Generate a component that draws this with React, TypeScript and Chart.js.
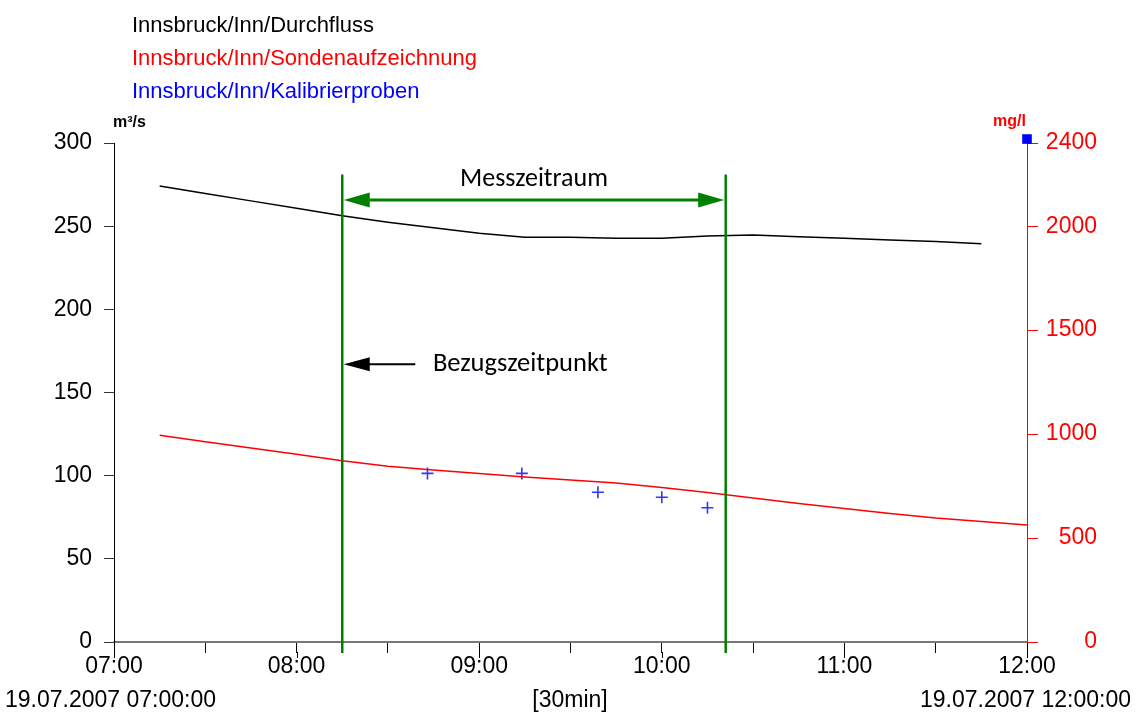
import React, { useEffect, useRef } from 'react';
import { Chart, registerables } from 'chart.js';

Chart.register(...registerables);

// ---- data (x in minutes after 07:00) ----
const durchflussMinutes = [15, 30, 45, 60, 75, 90, 105, 120, 135, 150, 165, 180, 195, 210, 225, 240, 255, 270, 285];
const durchflussValues = [274.2, 269.7, 265.2, 260.8, 256.3, 252.4, 249.1, 245.8, 243.4, 243.3, 242.7, 242.7, 244.1, 244.7, 243.6, 242.7, 241.7, 240.8, 239.4];

const sondeMinutes = [15, 30, 45, 60, 75, 90, 105, 120, 135, 150, 165, 180, 195, 210, 225, 240, 255, 270, 285, 300];
const sondeValues = [994, 963, 933, 903, 872, 845, 827, 810, 794, 779, 765, 743, 719, 693, 666, 642, 618, 596, 580, 563];

const probenMinutes = [103, 134, 159, 180, 195];
const probenValues = [811, 811, 720, 696, 646];

const markerMinutes = [300];
const markerValues = [2419];

const leftTicks = [0, 50, 100, 150, 200, 250, 300];
const rightTicks = [0, 500, 1000, 1500, 2000, 2400];
const xTickMinutes = [0, 30, 60, 90, 120, 150, 180, 210, 240, 270, 300];
const xTickLabels = ['07:00', '', '08:00', '', '09:00', '', '10:00', '', '11:00', '', '12:00'];
const hourMinutes = [0, 60, 120, 180, 240, 300];

const legendLabels = ['Innsbruck/Inn/Durchfluss', 'Innsbruck/Inn/Sondenaufzeichnung', 'Innsbruck/Inn/Kalibrierproben'];
const legendColors = ['#000000', '#ff0000', '#0000ff'];

// annotation anchors (data units)
const periodStart = 75;
const periodEnd = 201;
const greenTopValue = 281;
const periodArrowValue = 265.8;
const refArrowEnd = 99;
const refArrowValue = 167;
const refTextStart = 104.8;

const FONT = '"Liberation Sans", Arial, sans-serif';
const ANNOT_FONT = 'Carlito, Lato, sans-serif';

function arrowHead(ctx: CanvasRenderingContext2D, tipX: number, y: number, dir: number, len: number, half: number) {
  ctx.beginPath();
  ctx.moveTo(tipX, y);
  ctx.lineTo(tipX + dir * len, y - half);
  ctx.lineTo(tipX + dir * len, y + half);
  ctx.closePath();
  ctx.fill();
}

const overlay = {
  id: 'overlay',
  afterDraw(chart: any) {
    const ctx: CanvasRenderingContext2D = chart.ctx;
    const xs = chart.scales.x;
    const ys = chart.scales.y;
    const ca = chart.chartArea;
    ctx.save();

    // legend
    ctx.font = '22px ' + FONT;
    ctx.textAlign = 'left';
    ctx.textBaseline = 'alphabetic';
    legendLabels.forEach((t, i) => {
      ctx.fillStyle = legendColors[i];
      ctx.fillText(t, 132, 32 + i * 33);
    });

    // units
    ctx.font = 'bold 16px ' + FONT;
    ctx.fillStyle = '#000';
    ctx.textAlign = 'left';
    ctx.fillText('m³/s', 113, 127);
    ctx.fillStyle = '#ff0000';
    ctx.textAlign = 'right';
    ctx.fillText('mg/l', 1026, 126);

    // bottom labels
    ctx.font = '23px ' + FONT;
    ctx.fillStyle = '#000';
    ctx.textAlign = 'left';
    ctx.fillText('19.07.2007 07:00:00', 5, 707);
    ctx.textAlign = 'center';
    ctx.fillText('[30min]', 570, 707);
    ctx.textAlign = 'right';
    ctx.fillText('19.07.2007 12:00:00', 1131, 707);

    // longer hour ticks
    ctx.strokeStyle = '#000';
    ctx.lineWidth = 1;
    hourMinutes.forEach((m) => {
      const px = Math.round(xs.getPixelForValue(m)) + 0.5;
      ctx.beginPath();
      ctx.moveTo(px, ca.bottom + 10);
      ctx.lineTo(px, ca.bottom + 16);
      ctx.stroke();
    });

    // green period lines
    const g1 = xs.getPixelForValue(periodStart);
    const g2 = xs.getPixelForValue(periodEnd);
    const gTop = ys.getPixelForValue(greenTopValue);
    ctx.strokeStyle = '#008000';
    ctx.fillStyle = '#008000';
    ctx.lineWidth = 2.5;
    [g1, g2].forEach((gx) => {
      ctx.beginPath();
      ctx.moveTo(gx, gTop);
      ctx.lineTo(gx, ca.bottom + 11);
      ctx.stroke();
    });

    // double arrow
    const ay = ys.getPixelForValue(periodArrowValue);
    ctx.lineWidth = 3;
    ctx.beginPath();
    ctx.moveTo(g1 + 20, ay);
    ctx.lineTo(g2 - 20, ay);
    ctx.stroke();
    arrowHead(ctx, g1 + 1.5, ay, 1, 26, 7.5);
    arrowHead(ctx, g2 - 1.5, ay, -1, 26, 7.5);

    ctx.font = '26px ' + ANNOT_FONT;
    ctx.fillStyle = '#000';
    ctx.textAlign = 'center';
    ctx.fillText('Messzeitraum', (g1 + g2) / 2, ay - 14);

    // reference arrow
    const ry = ys.getPixelForValue(refArrowValue);
    const rEnd = xs.getPixelForValue(refArrowEnd);
    ctx.strokeStyle = '#000';
    ctx.fillStyle = '#000';
    ctx.lineWidth = 2;
    ctx.beginPath();
    ctx.moveTo(rEnd, ry);
    ctx.lineTo(g1 + 20, ry);
    ctx.stroke();
    arrowHead(ctx, g1 + 1.5, ry, 1, 26, 7);

    ctx.font = '26.5px ' + ANNOT_FONT;
    ctx.textAlign = 'left';
    ctx.fillText('Bezugszeitpunkt', xs.getPixelForValue(refTextStart), ry + 7);

    ctx.restore();
  },
};

export default function App() {
  const ref = useRef<HTMLCanvasElement>(null);

  useEffect(() => {
    if (!ref.current) return;
    const chart = new Chart(ref.current, {
      type: 'line',
      data: {
        datasets: [
          {
            label: legendLabels[0],
            data: durchflussMinutes.map((m, i) => ({ x: m, y: durchflussValues[i] })),
            borderColor: '#000000',
            borderWidth: 1.5,
            pointRadius: 0,
            yAxisID: 'y',
            tension: 0,
          },
          {
            label: legendLabels[1],
            data: sondeMinutes.map((m, i) => ({ x: m, y: sondeValues[i] })),
            borderColor: '#ff0000',
            borderWidth: 1.5,
            pointRadius: 0,
            yAxisID: 'y2',
            tension: 0,
          },
          {
            label: legendLabels[2],
            data: probenMinutes.map((m, i) => ({ x: m, y: probenValues[i] })),
            showLine: false,
            pointStyle: 'cross',
            pointRadius: 6,
            pointBorderWidth: 1.6,
            pointBorderColor: 'rgba(0,0,255,0.8)',
            borderColor: 'rgba(0,0,255,0.8)',
            yAxisID: 'y2',
          },
          {
            label: 'marker',
            data: markerMinutes.map((m, i) => ({ x: m, y: markerValues[i] })),
            showLine: false,
            pointStyle: 'rect',
            pointRadius: 6.8,
            pointBackgroundColor: '#0000ff',
            pointBorderColor: '#0000ff',
            pointBorderWidth: 0,
            yAxisID: 'y2',
            clip: false,
          } as any,
        ],
      },
      options: {
        animation: false,
        responsive: true,
        maintainAspectRatio: false,
        layout: { padding: { top: 143, right: 39, left: 0, bottom: 0 } },
        plugins: { legend: { display: false }, tooltip: { enabled: false } },
        scales: {
          x: {
            type: 'linear',
            min: 0,
            max: 300,
            afterBuildTicks: (s: any) => {
              s.ticks = xTickMinutes.map((v) => ({ value: v }));
            },
            afterFit: (s: any) => {
              s.height = 73;
            },
            ticks: {
              autoSkip: false,
              maxRotation: 0,
              padding: 0,
              color: '#000',
              font: { family: FONT, size: 23 },
              callback: (v: any) => {
                const i = xTickMinutes.indexOf(Number(v));
                return i >= 0 ? xTickLabels[i] : '';
              },
            },
            grid: { drawOnChartArea: false, drawTicks: true, tickLength: 11, color: '#000', lineWidth: 1 },
            border: { color: '#777', width: 2 },
          },
          y: {
            type: 'linear',
            position: 'left',
            min: 0,
            max: 300,
            afterBuildTicks: (s: any) => {
              s.ticks = leftTicks.map((v) => ({ value: v }));
            },
            afterFit: (s: any) => {
              s.width = 114;
            },
            ticks: { padding: 12, color: '#000', font: { family: FONT, size: 23 }, callback: (v: any) => String(v) },
            grid: { drawOnChartArea: false, drawTicks: true, tickLength: 10, color: '#333' },
            border: { color: '#000', width: 1 },
          },
          y2: {
            type: 'linear',
            position: 'right',
            min: 0,
            max: 2400,
            afterBuildTicks: (s: any) => {
              s.ticks = rightTicks.map((v) => ({ value: v }));
            },
            afterFit: (s: any) => {
              s.width = 70;
            },
            ticks: { crossAlign: 'far', color: '#ff0000', font: { family: FONT, size: 23 }, callback: (v: any) => String(v) },
            grid: { drawOnChartArea: false, drawTicks: true, tickLength: 11, color: '#ff0000' },
            border: { color: '#ff0000', width: 1 },
          },
        },
      },
      plugins: [overlay],
    } as any);
    return () => chart.destroy();
  }, []);

  return (
    <div style={{ position: 'fixed', left: 0, top: 0, width: 1136, height: 715, background: '#fff' }}>
      <canvas ref={ref} />
    </div>
  );
}
